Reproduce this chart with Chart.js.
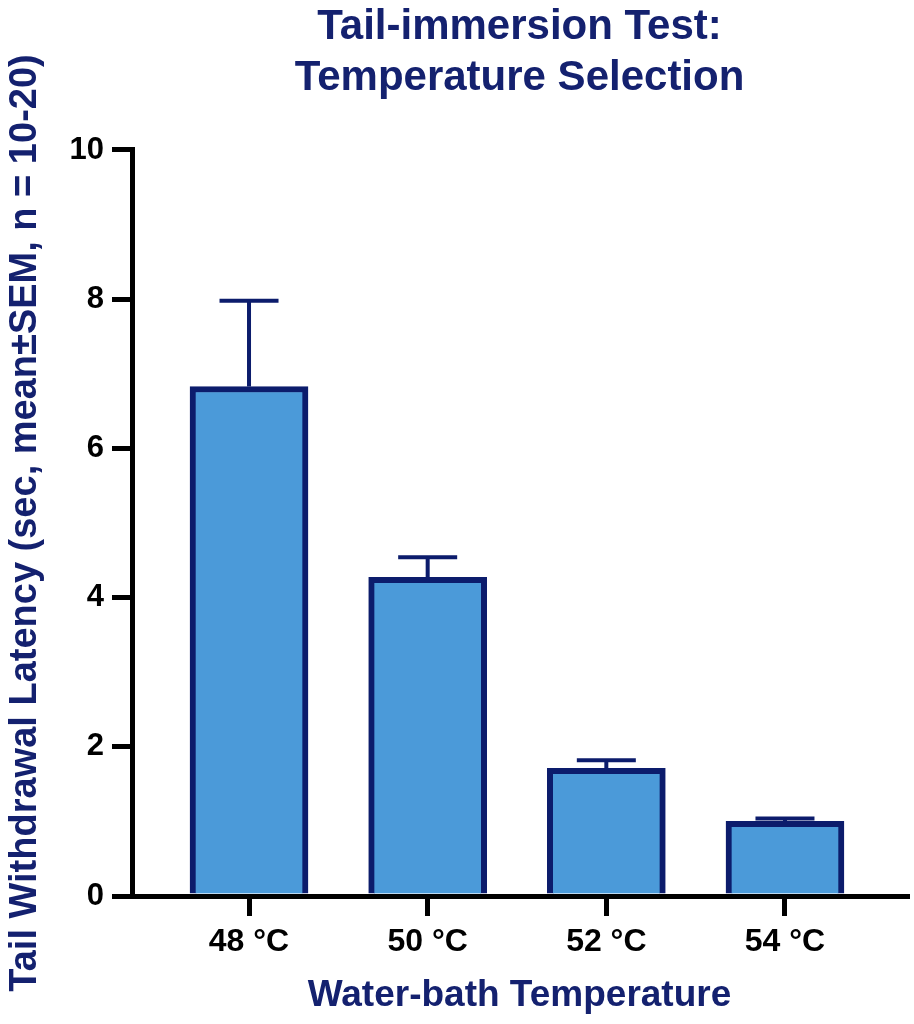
<!DOCTYPE html>
<html>
<head>
<meta charset="utf-8">
<script src="https://cdn.jsdelivr.net/npm/chart.js@4.4.1/dist/chart.umd.min.js"></script>
<style>
  body { margin: 0; background: #fff; }
  canvas { display: block; }
</style>
</head>
<body>
<canvas id="chart" width="914" height="1024"></canvas>
<script>
// data
const temps = ["48 °C", "50 °C", "52 °C", "54 °C"];
const means = [6.83, 4.27, 1.71, 1.0];
const sems = [1.15, 0.27, 0.11, 0.04];
const yTickStep = 2;

const NAVY = "#14216f";
const BAR_EDGE = "#0c1c6c";
const FONT = "'Liberation Sans', Arial, Helvetica, sans-serif";

// upward-only SEM bars with caps, GraphPad style
const semBars = {
  id: "semBars",
  afterDatasetsDraw(chart) {
    const meta = chart.getDatasetMeta(0);
    const y = chart.scales.y;
    const ctx = chart.ctx;
    ctx.save();
    ctx.strokeStyle = BAR_EDGE;
    ctx.lineWidth = 4;
    meta.data.forEach((bar, i) => {
      const top = y.getPixelForValue(means[i] + sems[i]);
      ctx.beginPath();
      ctx.moveTo(bar.x, bar.y);
      ctx.lineTo(bar.x, top);
      ctx.moveTo(bar.x - 29.5, top);
      ctx.lineTo(bar.x + 29.5, top);
      ctx.stroke();
    });
    ctx.restore();
  },
};

new Chart(document.getElementById("chart"), {
  type: "bar",
  data: {
    datasets: [
      {
        data: means.map((m, i) => ({ x: i, y: m })),
        backgroundColor: "#4b9ad9",
        borderColor: BAR_EDGE,
        borderWidth: 6,
        borderSkipped: "start",
        barThickness: 118,
      },
    ],
  },
  options: {
    responsive: false,
    animation: false,
    devicePixelRatio: 1,
    layout: { padding: { left: 0, right: 7, top: 0, bottom: 0 } },
    plugins: {
      legend: { display: false },
      tooltip: { enabled: false },
      title: {
        display: true,
        fullSize: false,
        text: ["Tail-immersion Test:", "Temperature Selection"],
        color: NAVY,
        font: { family: FONT, size: 42, weight: "bold", lineHeight: 1.214 },
        padding: { top: 2, bottom: 46 },
      },
    },
    scales: {
      x: {
        type: "linear",
        min: -0.655,
        max: 3.683,
        offset: false,
        z: 1,
        afterFit: (scale) => {
          scale.height = 128;
        },
        border: { display: true, color: "#000", width: 5 },
        grid: {
          offset: false,
          drawOnChartArea: false,
          drawTicks: true,
          tickLength: 20,
          lineWidth: 5,
          color: "#000",
        },
        ticks: {
          stepSize: 1,
          includeBounds: false,
          autoSkip: false,
          maxRotation: 0,
          padding: 7,
          color: "#000",
          font: { family: FONT, size: 32, weight: "bold" },
          callback: (v) => temps[v] ?? "",
        },
        title: {
          display: true,
          text: "Water-bath Temperature",
          color: NAVY,
          font: { family: FONT, size: 37, weight: "bold", lineHeight: 1.2 },
          padding: { top: 0, bottom: 6 },
        },
      },
      y: {
        min: 0,
        max: 10,
        afterFit: (scale) => {
          scale.width = 132;
        },
        border: { display: true, color: "#000", width: 5 },
        grid: {
          drawOnChartArea: false,
          drawTicks: true,
          tickLength: 20,
          lineWidth: 5,
          color: "#000",
        },
        ticks: {
          stepSize: yTickStep,
          padding: 8,
          color: "#000",
          font: { family: FONT, size: 31, weight: "bold" },
        },
        title: {
          display: true,
          text: "Tail Withdrawal Latency (sec, mean±SEM, n = 10-20)",
          color: NAVY,
          font: { family: FONT, size: 38, weight: "bold", lineHeight: 1.2 },
          padding: { top: 3, bottom: 0 },
        },
      },
    },
  },
  plugins: [semBars],
});
</script>
</body>
</html>
